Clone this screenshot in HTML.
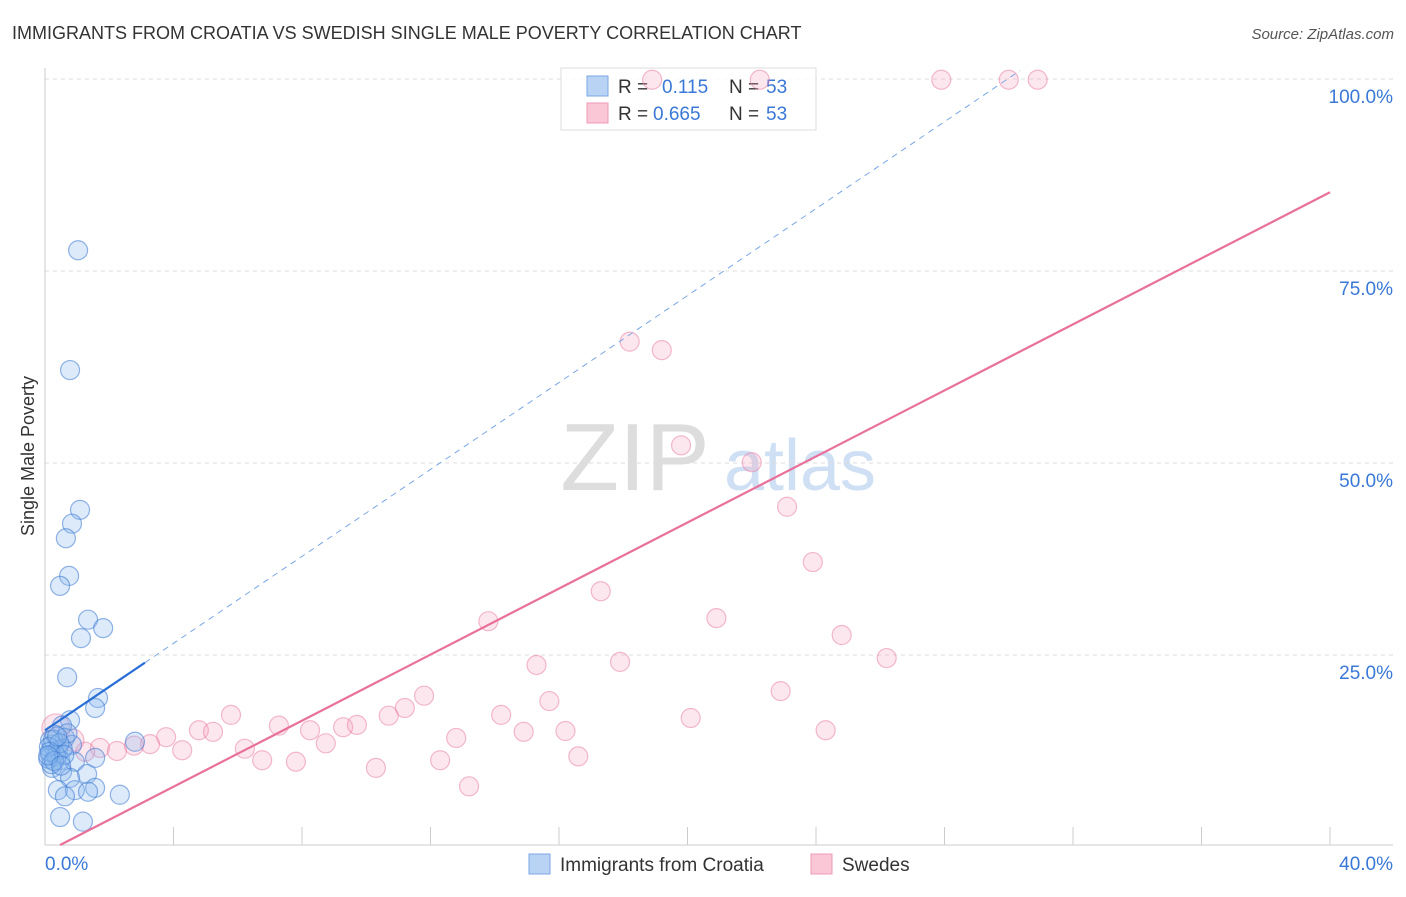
<!DOCTYPE html>
<html><head><meta charset="utf-8"><style>
body{margin:0;background:#fff;font-family:"Liberation Sans",sans-serif}
svg text{font-family:"Liberation Sans",sans-serif}
</style></head><body>
<svg id="chart" width="1406" height="892" xmlns="http://www.w3.org/2000/svg">
<text x="12" y="39" font-size="18" fill="#333">IMMIGRANTS FROM CROATIA VS SWEDISH SINGLE MALE POVERTY CORRELATION CHART</text>
<text x="1394" y="39" font-size="15" fill="#555" text-anchor="end" font-style="italic">Source: ZipAtlas.com</text>
<text transform="translate(34,456) rotate(-90)" font-size="18" fill="#333" text-anchor="middle">Single Male Poverty</text>
<g><text x="635" y="490" font-size="96" fill="#ddd" font-family="Liberation Serif" text-anchor="middle">ZIP</text><text x="800" y="490" font-size="72" fill="#cfe0f5" text-anchor="middle">atlas</text></g>
<g id="grid"></g><g id="axes"></g>
<g>
<rect x="561" y="68" width="255" height="62" fill="rgba(255,255,255,0.85)" stroke="#ddd"/>
<rect x="587" y="76" width="21" height="20" fill="#b9d3f5" stroke="#7aa7e6"/>
<rect x="587" y="103" width="21" height="20" fill="#f9c7d6" stroke="#f09ab5"/>
<text x="618" y="93" font-size="19" fill="#333">R = </text><text x="662" y="93" font-size="19" fill="#3a78d8">0.115</text>
<text x="729" y="93" font-size="19" fill="#333">N = </text><text x="766" y="93" font-size="19" fill="#3a78d8">53</text>
<text x="618" y="120" font-size="19" fill="#333">R = </text><text x="653" y="120" font-size="19" fill="#3a78d8">0.665</text>
<text x="729" y="120" font-size="19" fill="#333">N = </text><text x="766" y="120" font-size="19" fill="#3a78d8">53</text>
</g>
<g id="marks"></g>
<g>
<rect x="529" y="854" width="21" height="20" fill="#b9d3f5" stroke="#7aa7e6"/>
<text x="560" y="871" font-size="19" fill="#333">Immigrants from Croatia</text>
<rect x="811" y="854" width="21" height="20" fill="#f9c7d6" stroke="#f09ab5"/>
<text x="842" y="871" font-size="19" fill="#333">Swedes</text>
</g>
</svg>
<script>
const blueX=[1.03,0.78,1.09,0.84,0.65,0.75,0.47,1.34,1.81,1.12,0.69,1.65,1.56,0.78,0.53,0.31,0.62,0.84,0.22,0.40,0.16,2.80,0.47,0.93,1.56,0.22,0.53,1.31,0.78,0.40,0.93,1.56,1.34,0.62,2.33,0.47,1.18,0.16,0.30,0.10,0.25,0.55,0.35,0.12,0.70,0.20,0.45,0.15,0.60,0.28,0.38,0.10,0.50];
const blueY=[77.7,62.1,43.9,42.1,40.2,35.3,34.0,29.6,28.5,27.2,22.1,19.4,18.1,16.5,15.8,14.6,14.2,13.3,13.3,12.6,12.0,13.7,11.3,11.1,11.6,10.3,9.8,9.5,9.0,7.4,7.4,7.7,7.2,6.6,6.8,3.9,3.3,13.9,12.2,11.5,14.0,12.8,11.8,13.0,14.8,10.8,13.5,12.4,12.0,11.2,14.4,11.9,10.6];
const pinkX=[18.9,22.25,27.9,30.0,30.9,18.2,19.2,19.8,22.0,23.1,23.9,17.3,13.8,20.9,24.8,26.2,15.3,17.9,22.9,15.7,11.8,11.2,10.7,14.2,5.79,7.28,4.79,5.23,8.25,9.28,9.71,16.2,14.9,20.1,24.3,3.77,12.8,8.74,3.27,2.77,4.27,6.22,1.71,2.24,1.25,6.76,7.81,12.3,16.6,10.3,13.2,0.34,0.87];
const pinkY=[99.9,99.9,99.9,99.9,99.9,65.8,64.7,52.3,50.1,44.3,37.1,33.3,29.4,29.8,27.6,24.6,23.7,24.1,20.3,19.0,19.7,18.1,17.1,17.2,17.2,15.8,15.2,15.0,15.2,15.6,15.9,15.1,15.0,16.8,15.2,14.3,14.2,13.5,13.4,13.2,12.6,12.8,12.9,12.5,12.4,11.3,11.1,11.3,11.8,10.3,7.9,15.5,13.9];
const yTicks=[25,50,75,100];
const yTickLabels=["25.0%","50.0%","75.0%","100.0%"];
const xTicks=[4,8,12,16,20,24,28,32,36,40];
const blueTrend=[15.2,2.83];
const pinkTrend=[-0.75,2.15];
const NS="http://www.w3.org/2000/svg";
const X=v=>45+v*32.125, Y=v=>847-v*7.68;
function mk(tag,at,parent){const e=document.createElementNS(NS,tag);for(const k in at)e.setAttribute(k,at[k]);document.getElementById(parent).appendChild(e);return e;}
yTicks.forEach((t,i)=>{
 const l=mk('line',{x1:45,x2:1393,y1:Y(t),y2:Y(t),stroke:'#ddd','stroke-dasharray':'4,4'},'grid');
 
 
 const tx=mk('text',{x:1393,y:Y(t)+24,'font-size':19,fill:'#3a78d8','text-anchor':'end'},'grid');
 tx.textContent=yTickLabels[i];
 
 
});
const ax=mk('line',{x1:45,x2:45,y1:68,y2:845,stroke:'#ccc'},'axes');


const bx=mk('line',{x1:45,x2:1393,y1:845,y2:845,stroke:'#ccc'},'axes');


xTicks.forEach(t=>{
 const l=mk('line',{x1:X(t),x2:X(t),y1:827,y2:845,stroke:'#ccc'},'axes');
 
 
});
const x0=mk('text',{x:45,y:870,'font-size':19,fill:'#3a78d8'},'axes');x0.textContent='0.0%';


const x1=mk('text',{x:1393,y:870,'font-size':19,fill:'#3a78d8','text-anchor':'end'},'axes');x1.textContent='40.0%';


pinkX.forEach((v,i)=>{
 const c=mk('circle',{cx:X(v),cy:Y(pinkY[i]),r:i>=51?(i==51?14:11):9.5,fill:'rgba(246,160,188,0.25)',stroke:'rgba(232,120,160,0.5)','stroke-width':1.2},'marks');
 
 
});
blueX.forEach((v,i)=>{
 const c=mk('circle',{cx:X(v),cy:Y(blueY[i]),r:9.5,fill:'rgba(140,185,240,0.3)',stroke:'rgba(60,120,210,0.55)','stroke-width':1.2},'marks');
 
 
});
const bd=mk('line',{x1:X(3.11),y1:Y(blueTrend[0]+blueTrend[1]*3.11),x2:X(30.35),y2:Y(blueTrend[0]+blueTrend[1]*30.35),stroke:'#7aa7e6','stroke-width':1,'stroke-dasharray':'6,5'},'marks');


const bl=mk('line',{x1:X(0),y1:Y(blueTrend[0]),x2:X(3.11),y2:Y(blueTrend[0]+blueTrend[1]*3.11),stroke:'#2a6fd6','stroke-width':2.2},'marks');


const pl=mk('line',{x1:X(0.47),y1:Y(pinkTrend[0]+pinkTrend[1]*0.47),x2:X(40),y2:Y(pinkTrend[0]+pinkTrend[1]*40),stroke:'#e8709a','stroke-width':2.2},'marks');


</script>
</body></html>
